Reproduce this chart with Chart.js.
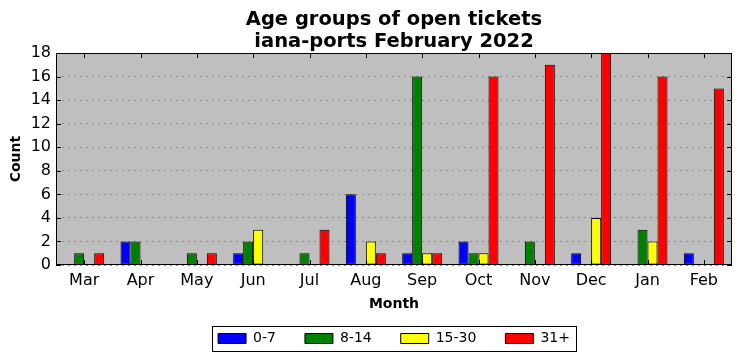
<!DOCTYPE html>
<html>
<head>
<meta charset="utf-8">
<script src="https://cdn.jsdelivr.net/npm/chart.js@4"></script>
<style>
  html, body { margin: 0; padding: 0; background: #fff; }
</style>
</head>
<body>
<canvas id="ageChart" width="741" height="361"></canvas>
<script>
// data
const months = ["Mar", "Apr", "May", "Jun", "Jul", "Aug", "Sep", "Oct", "Nov", "Dec", "Jan", "Feb"];
const age0to7 = [0, 2, 0, 1, 0, 6, 1, 2, 0, 1, 0, 1];
const age8to14 = [1, 2, 1, 2, 1, 0, 16, 1, 2, 0, 3, 0];
const age15to30 = [0, 0, 0, 3, 0, 2, 1, 1, 0, 4, 2, 0];
const age31plus = [1, 0, 1, 0, 3, 1, 1, 16, 17, 18, 16, 15];
const yTicks = [0, 2, 4, 6, 8, 10, 12, 14, 16, 18];

Chart.defaults.font.family = "'DejaVu Sans', sans-serif";
Chart.defaults.color = "#000";

// grey plot area, black frame, inward ticks, boxed legend
const framePlugin = {
  id: "frame",
  beforeDraw(chart) {
    const { ctx, chartArea: a } = chart;
    ctx.save();
    ctx.fillStyle = "#fff";
    ctx.fillRect(0, 0, chart.width, chart.height);
    ctx.fillStyle = "#bfbfbf";
    ctx.fillRect(a.left, a.top, a.right - a.left, a.bottom - a.top);
    ctx.restore();
  },
  afterLayout(chart) {
    const a = chart.chartArea;
    // center title and legend over the plot, not the canvas
    for (const box of [chart.titleBlock, chart.legend]) {
      box.left = a.left;
      box.right = a.right;
      box.width = a.right - a.left;
    }
    const pad = chart.legend.options.labels.padding;
    chart.legend.top = chart.height - 22.5 - pad - 7;
  },
  afterDraw(chart) {
    const { ctx, chartArea: a } = chart;
    const xs = chart.scales.x, ys = chart.scales.y;
    ctx.save();
    ctx.strokeStyle = "#000";
    ctx.lineWidth = 1;
    ctx.beginPath();
    xs.ticks.forEach((t, i) => {
      const x = Math.round(xs.getPixelForTick(i)) + 0.5;
      ctx.moveTo(x, a.bottom); ctx.lineTo(x, a.bottom - 5);
      ctx.moveTo(x, a.top); ctx.lineTo(x, a.top + 5);
    });
    ys.ticks.forEach((t, i) => {
      const y = Math.round(ys.getPixelForTick(i)) + 0.5;
      ctx.moveTo(a.left, y); ctx.lineTo(a.left + 5, y);
      ctx.moveTo(a.right, y); ctx.lineTo(a.right - 5, y);
    });
    ctx.stroke();
    ctx.strokeRect(Math.round(a.left) + 0.5, Math.round(a.top) + 0.5,
      Math.round(a.right - a.left) - 1, Math.round(a.bottom - a.top) - 1);

    // legend frame
    const L = chart.legend;
    const pad = L.options.labels.padding;
    const span = L.lineWidths[0] - pad;
    const cx = (L.left + L.right) / 2;
    ctx.strokeRect(Math.round(cx - span / 2 - 6) + 0.5, 326.5, Math.round(span + 12), 25);
    ctx.restore();
  }
};

const bar = (label, data, color) => ({
  label, data,
  backgroundColor: color,
  borderColor: "#000",
  borderWidth: 1,
  borderSkipped: false,
  categoryPercentage: 0.71,
  barPercentage: 1
});

new Chart(document.getElementById("ageChart"), {
  type: "bar",
  data: {
    labels: months,
    datasets: [
      bar("0-7", age0to7, "#0000ff"),
      bar("8-14", age8to14, "#008000"),
      bar("15-30", age15to30, "#ffff00"),
      bar("31+", age31plus, "#ff0000")
    ]
  },
  plugins: [framePlugin],
  options: {
    responsive: false,
    animation: false,
    layout: { padding: { left: 0, right: 9, top: 0, bottom: 0 } },
    plugins: {
      tooltip: { enabled: false },
      title: {
        display: true,
        text: ["Age groups of open tickets", "iana-ports February 2022"],
        color: "#000",
        font: { size: 19.5, weight: "bold", lineHeight: 1.13 },
        padding: { top: 8.5, bottom: 0.5 }
      },
      legend: {
        position: "bottom",
        maxHeight: 38,
        labels: {
          boxWidth: 28,
          boxHeight: 10,
          padding: 29,
          color: "#000",
          font: { size: 14 }
        }
      }
    },
    scales: {
      x: {
        grid: { display: false, drawTicks: false },
        border: { display: false },
        ticks: { color: "#000", font: { size: 16 }, padding: 6 },
        title: {
          display: true, text: "Month", color: "#000",
          font: { size: 14, weight: "bold" },
          padding: { top: 4, bottom: 10 }
        },
        afterFit(s) { s.height = 58; }
      },
      y: {
        min: 0, max: 18,
        afterBuildTicks(s) { s.ticks = yTicks.map(v => ({ value: v })); },
        grid: { color: "#8a8a8a", lineWidth: 1, drawTicks: false },
        border: { display: false, dash: [2, 4] },
        ticks: { color: "#000", font: { size: 16 }, padding: 5 },
        title: {
          display: true, text: "Count", color: "#000",
          font: { size: 14, weight: "bold" },
          padding: { top: 8, bottom: 0 }
        },
        afterFit(s) { s.width = 56; }
      }
    }
  }
});
</script>
</body>
</html>
